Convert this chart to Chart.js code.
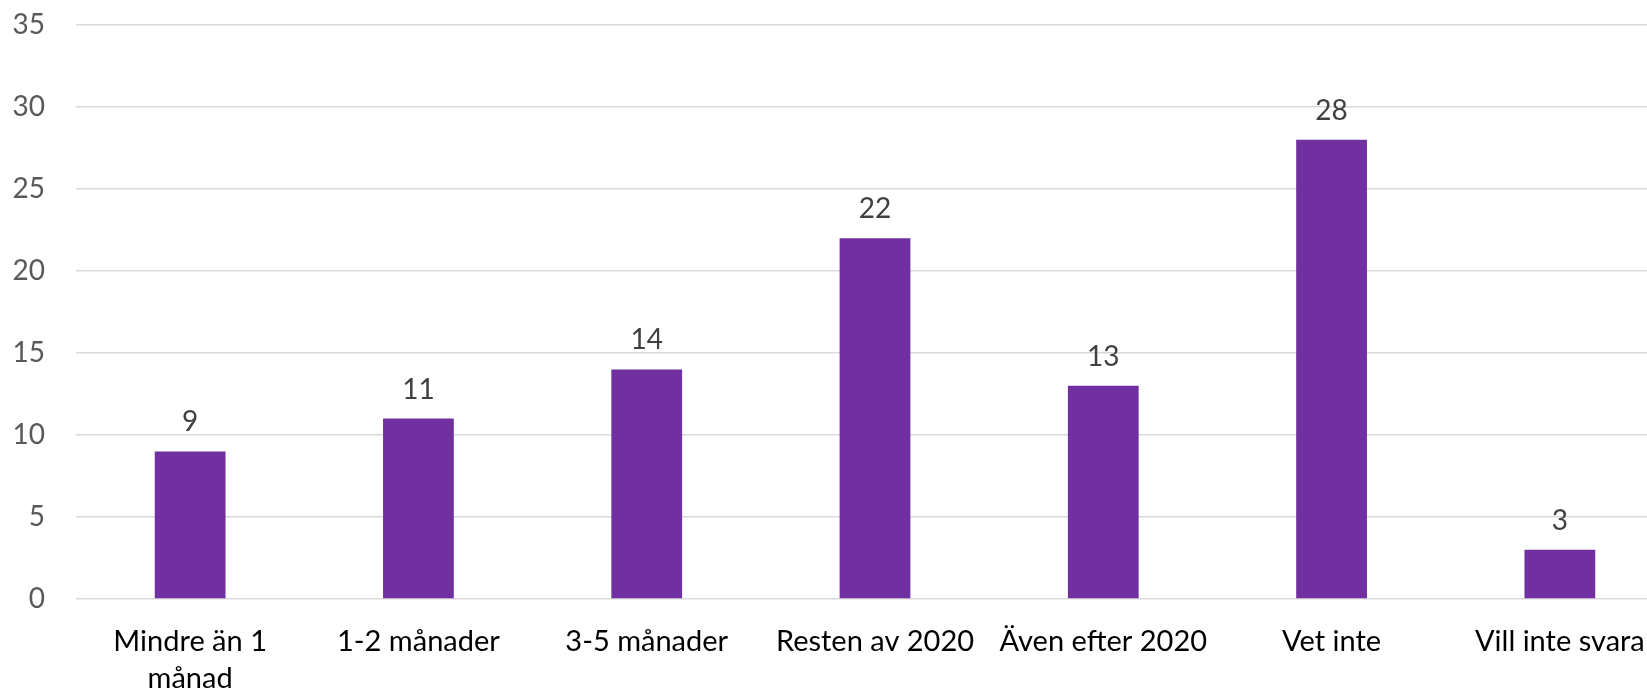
<!DOCTYPE html>
<html>
<head>
<meta charset="utf-8">
<script src="https://cdn.jsdelivr.net/npm/chart.js@4"></script>
<style>
	html, body { margin: 0; padding: 0; overflow: hidden; background: #fff; }
	canvas { display: block; }
</style>
</head>
<body>
<canvas id="myChart" width="1674" height="689" style="width:1674px;height:689px"></canvas>
<script>
(() => {
	"use strict";

	const categories = [
		["Mindre än 1", "månad"],
		"1-2 månader",
		"3-5 månader",
		"Resten av 2020",
		"Även efter 2020",
		"Vet inte",
		"Vill inte svara",
	];
	const values = [9, 11, 14, 22, 13, 28, 3];
	const yTicks = [0, 5, 10, 15, 20, 25, 30, 35];

	const fontFamily = "Lato, 'Open Sans', sans-serif";

	// value labels above the bars
	const barLabels = {
		id: "barLabels",
		afterDatasetsDraw(chart) {
			const c = chart.ctx;
			const meta = chart.getDatasetMeta(0);
			c.save();
			c.font = "28px " + fontFamily;
			c.fillStyle = "#404040";
			c.textAlign = "center";
			c.textBaseline = "alphabetic";
			meta.data.forEach((bar, i) => {
				c.fillText(String(values[i]), bar.x, bar.y - 20);
			});
			c.restore();
		},
	};

	const ctx = document.getElementById("myChart");
	// eslint-disable-next-line no-unused-vars
	const myChart = new Chart(ctx, {
		type: "bar",
		data: {
			labels: categories,
			datasets: [
				{
					data: values,
					backgroundColor: "#7030A0",
					borderWidth: 0,
					barPercentage: 0.62,
					categoryPercentage: 0.5,
				},
			],
		},
		plugins: [barLabels],
		options: {
			responsive: false,
			animation: false,
			layout: {
				padding: { top: 25, left: 0, right: 0, bottom: 0 },
			},
			plugins: {
				legend: { display: false },
				tooltip: { enabled: false },
			},
			scales: {
				x: {
					grid: { display: false, drawTicks: false },
					border: { display: false },
					ticks: {
						color: "#000000",
						padding: 24,
						maxRotation: 0,
						autoSkip: false,
						font: { family: fontFamily, size: 29, lineHeight: "37px" },
					},
					afterFit(scale) {
						scale.height = 90;
					},
				},
				y: {
					min: 0,
					max: 35,
					afterBuildTicks(scale) {
						scale.ticks = yTicks.map((v) => ({ value: v }));
					},
					grid: { color: "#d9d9d9", lineWidth: 1.5, drawTicks: false },
					border: { display: false },
					ticks: {
						color: "#595959",
						padding: 31,
						font: { family: fontFamily, size: 28 },
					},
					afterFit(scale) {
						scale.width = 76;
						// tick padding would otherwise push the plot top down
						scale.paddingTop = 0;
						scale.paddingBottom = 0;
					},
				},
			},
		},
	});
})();
</script>
</body>
</html>
